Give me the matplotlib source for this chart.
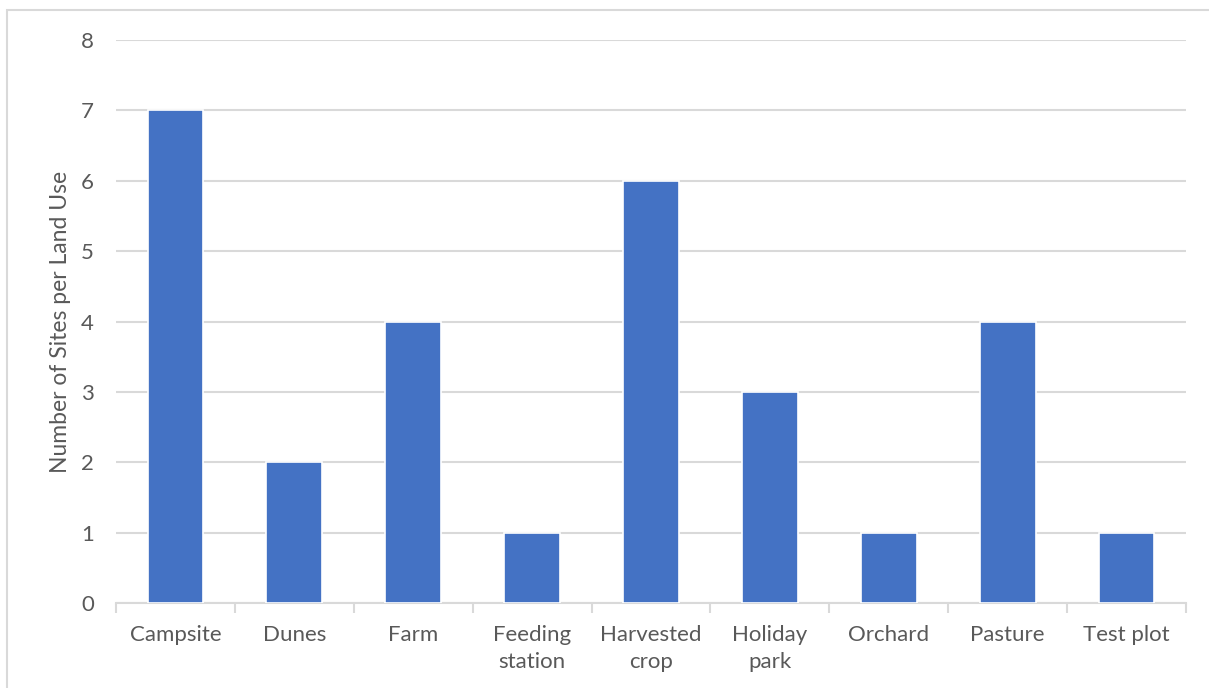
import matplotlib
matplotlib.use("Agg")
import matplotlib.pyplot as plt
from matplotlib.patches import Rectangle

categories = ["Campsite", "Dunes", "Farm", "Feeding\nstation", "Harvested\ncrop",
              "Holiday\npark", "Orchard", "Pasture", "Test plot"]
sites = [7, 2, 4, 1, 6, 3, 1, 4, 1]
y_ticks = [0, 1, 2, 3, 4, 5, 6, 7, 8]

plt.rcParams["font.family"] = ["Lato", "DejaVu Sans"]
text_color = "#595959"
grid_color = "#d9d9d9"
bar_color = "#4472c4"

fig = plt.figure(figsize=(12.09, 6.88), dpi=100)
ax = fig.add_axes([116 / 1209, 85 / 688, 1070 / 1209, 563 / 688])

# outer chart frame
fig.patches.append(Rectangle((7 / 1209, -0.1), 1.2, 1.1 - 10 / 688,
                             transform=fig.transFigure, fill=False,
                             edgecolor=grid_color, linewidth=1.5))

x = list(range(len(categories)))
ax.bar(x, sites, width=0.47, color=bar_color, edgecolor="white",
       linewidth=1.2, zorder=3)

ax.set_xlim(-0.5, len(categories) - 0.5)
ax.set_ylim(0, 8)
ax.set_yticks(y_ticks)
ax.set_yticklabels([str(t) for t in y_ticks])
ax.yaxis.grid(True, color=grid_color, linewidth=1.5, zorder=0)
ax.set_axisbelow(True)

ax.set_xticks(x)
ax.set_xticklabels(categories, linespacing=1.45)
ax.tick_params(axis="x", length=0, pad=16, labelsize=16, labelcolor=text_color)
ax.tick_params(axis="y", length=0, pad=16, labelsize=16, labelcolor=text_color)
for lbl in ax.get_xticklabels():
    lbl.set_verticalalignment("top")

# category boundary ticks on the baseline
ax.set_xticks([i - 0.5 for i in range(len(categories) + 1)], minor=True)
ax.tick_params(axis="x", which="minor", length=7, width=1.5, color=grid_color)

for side in ["top", "right", "left"]:
    ax.spines[side].set_visible(False)
ax.spines["bottom"].set_color(grid_color)
ax.spines["bottom"].set_linewidth(1.5)

ax.set_ylabel("Number of Sites per Land Use", fontsize=16.5, color=text_color,
              labelpad=7)

fig.savefig("out.png", dpi=100)
